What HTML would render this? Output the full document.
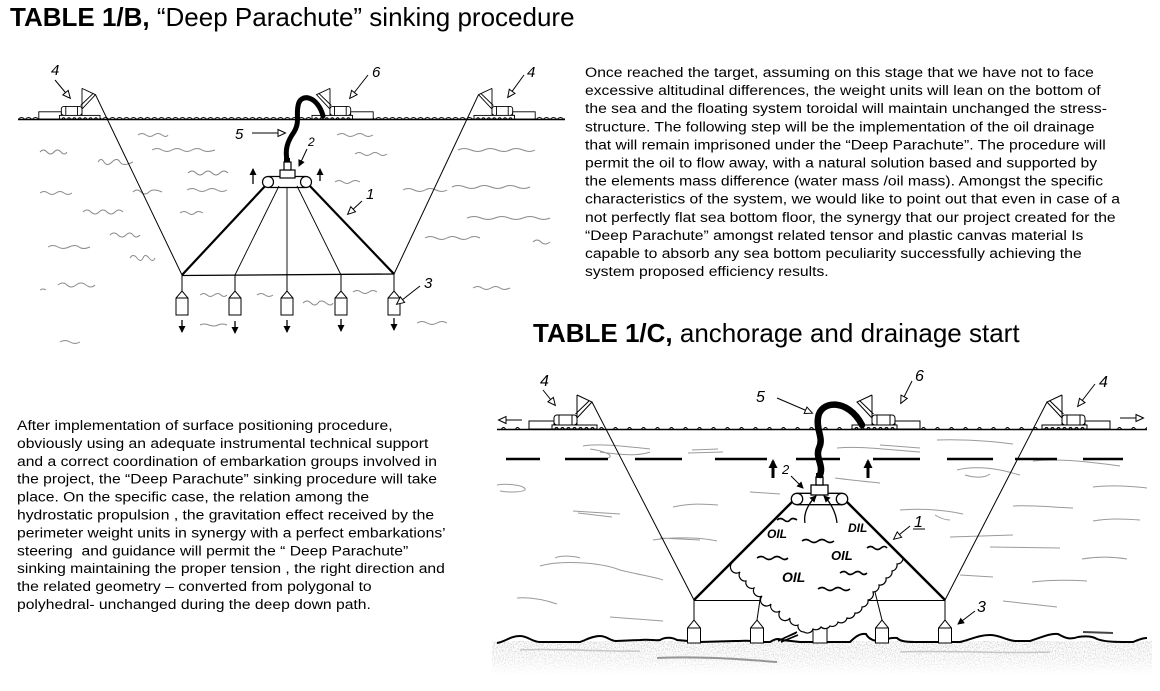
<!DOCTYPE html>
<html><head><meta charset="utf-8">
<style>
html,body{margin:0;padding:0;background:#fff;}
svg{display:block;}
</style></head>
<body>
<svg width="1160" height="691" viewBox="0 0 1160 691" xmlns="http://www.w3.org/2000/svg" font-family="'Liberation Sans', Arial, sans-serif">
<defs>
  <marker id="oa" markerWidth="12" markerHeight="12" refX="8" refY="4.5" orient="auto" markerUnits="userSpaceOnUse">
    <path d="M1 1 L8.5 4.5 L1 8 Z" fill="#fff" stroke="#000" stroke-width="1"/>
  </marker>
  <marker id="sa" markerWidth="10" markerHeight="10" refX="6" refY="3.5" orient="auto" markerUnits="userSpaceOnUse">
    <path d="M0 0 L7 3.5 L0 7 Z" fill="#000"/>
  </marker>
  <marker id="sb" markerWidth="12" markerHeight="12" refX="7" refY="4.5" orient="auto" markerUnits="userSpaceOnUse">
    <path d="M0 0 L9 4.5 L0 9 Z" fill="#000"/>
  </marker>
  <pattern id="w1" width="7" height="6" patternUnits="userSpaceOnUse" x="18" y="114">
    <path d="M0 5.5 Q3.5 1.5 7 5.5" fill="none" stroke="#000" stroke-width="0.9"/>
  </pattern>
  <pattern id="w2" width="14" height="6" patternUnits="userSpaceOnUse" x="497" y="424">
    <path d="M4 6 Q6.5 1 9 6" fill="none" stroke="#000" stroke-width="0.9"/>
  </pattern>
  <filter id="nz" x="0" y="0" width="1" height="1">
    <feTurbulence type="fractalNoise" baseFrequency="1.1 0.7" numOctaves="2" seed="7" result="t"/>
    <feColorMatrix in="t" type="matrix" values="0 0 0 0 0.5  0 0 0 0 0.5  0 0 0 0 0.5  0 0 0 -3.6 2.0"/>
  </filter>
  <linearGradient id="fade" x1="0" y1="0" x2="0" y2="1">
    <stop offset="0" stop-color="#fff" stop-opacity="0.25"/>
    <stop offset="0.55" stop-color="#fff" stop-opacity="0.5"/>
    <stop offset="1" stop-color="#fff" stop-opacity="1"/>
  </linearGradient>
  <g id="boat" fill="none" stroke="#000" stroke-width="1">
    <path d="M0 -34 V-4"/>
    <path d="M0 -34 L-15 -27 L0 -11"/>
    <path d="M-12.5 -28.5 L1.5 -15"/>
    <rect x="0" y="-14" width="23" height="10" rx="3" fill="#fff"/>
    <path d="M5 -14 V-4 M18 -14 V-4"/>
    <rect x="23" y="-8" width="25" height="8" fill="#fff"/>
    <rect x="-20" y="-4" width="45" height="4" fill="#fff"/>
    <path d="M-17 0 a1.5 1.5 0 0 1 3 0 M-11 0 a1.5 1.5 0 0 1 3 0 M-5 0 a1.5 1.5 0 0 1 3 0 M1 0 a1.5 1.5 0 0 1 3 0 M7 0 a1.5 1.5 0 0 1 3 0 M13 0 a1.5 1.5 0 0 1 3 0 M19 0 a1.5 1.5 0 0 1 3 0"/>
  </g>
</defs>

<!-- ============ TITLES ============ -->
<text x="10" y="26" font-size="26" fill="#000"><tspan font-weight="bold">TABLE 1/B,</tspan> “Deep Parachute” sinking procedure</text>
<text x="533" y="342" font-size="26" fill="#000"><tspan font-weight="bold">TABLE 1/C,</tspan> anchorage and drainage start</text>

<!-- ============ RIGHT PARAGRAPH ============ -->
<g font-size="14" fill="#000">
<text transform="translate(585 77) scale(1.12 1)">Once reached the target, assuming on this stage that we have not to face</text>
<text transform="translate(585 95.1) scale(1.12 1)">excessive altitudinal differences, the weight units will lean on the bottom of</text>
<text transform="translate(585 113.2) scale(1.12 1)">the sea and the floating system toroidal will maintain unchanged the stress-</text>
<text transform="translate(585 131.3) scale(1.12 1)">structure. The following step will be the implementation of the oil drainage</text>
<text transform="translate(585 149.4) scale(1.12 1)">that will remain imprisoned under the “Deep Parachute”. The procedure will</text>
<text transform="translate(585 167.5) scale(1.12 1)">permit the oil to flow away, with a natural solution based and supported by</text>
<text transform="translate(585 185.6) scale(1.12 1)">the elements mass difference (water mass /oil mass). Amongst the specific</text>
<text transform="translate(585 203.7) scale(1.12 1)">characteristics of the system, we would like to point out that even in case of a</text>
<text transform="translate(585 221.8) scale(1.12 1)">not perfectly flat sea bottom floor, the synergy that our project created for the</text>
<text transform="translate(585 239.9) scale(1.12 1)">“Deep Parachute” amongst related tensor and plastic canvas material Is</text>
<text transform="translate(585 258) scale(1.12 1)">capable to absorb any sea bottom peculiarity successfully achieving the</text>
<text transform="translate(585 276.1) scale(1.12 1)">system proposed efficiency results.</text>
</g>

<!-- ============ LEFT PARAGRAPH ============ -->
<g font-size="14" fill="#000">
<text transform="translate(17 430) scale(1.12 1)">After implementation of surface positioning procedure,</text>
<text transform="translate(17 447.9) scale(1.12 1)">obviously using an adequate instrumental technical support</text>
<text transform="translate(17 465.8) scale(1.12 1)">and a correct coordination of embarkation groups involved in</text>
<text transform="translate(17 483.7) scale(1.12 1)">the project, the “Deep Parachute” sinking procedure will take</text>
<text transform="translate(17 501.6) scale(1.12 1)">place. On the specific case, the relation among the</text>
<text transform="translate(17 519.5) scale(1.12 1)">hydrostatic propulsion , the gravitation effect received by the</text>
<text transform="translate(17 537.4) scale(1.12 1)">perimeter weight units in synergy with a perfect embarkations’</text>
<text transform="translate(17 555.3) scale(1.12 1)" xml:space="preserve">steering  and guidance will permit the “ Deep Parachute”</text>
<text transform="translate(17 573.2) scale(1.12 1)">sinking maintaining the proper tension , the right direction and</text>
<text transform="translate(17 591.1) scale(1.12 1)">the related geometry – converted from polygonal to</text>
<text transform="translate(17 609) scale(1.12 1)">polyhedral- unchanged during the deep down path.</text>
</g>

<!-- ============ DIAGRAM 1 (TABLE 1/B) ============ -->
<g fill="none" stroke="#8a8a8a" stroke-width="1">
  <path d="M40 152 q3.5 -4 7 0 t7 0 t7 0 t6 0"/>
  <path d="M138 135 q4 -3 8 0 t8 0 t8 0 t6 0"/>
  <path d="M152 150 q5 -3 10 0 t10 0 t10 0 t10 0 t10 0 t13 0"/>
  <path d="M98 162 q3 -5 6 0 t8 0 t8 0 t13 0"/>
  <path d="M188 173 q4 -4 8 0 t8 0 t8 0 t8 0 t8 0"/>
  <path d="M40 193 q4 -3 8 0 t8 0 t8 0 t8 0"/>
  <path d="M133 192 q4 -4 8 0 t8 0 t13 0"/>
  <path d="M187 190 q5 -3 10 0 t10 0 t10 0 t10 0"/>
  <path d="M83 212 q4 -4 8 0 t8 0 t8 0 t8 0 t8 0"/>
  <path d="M180 213 q4 -3 8 0 t7 0 t8 0"/>
  <path d="M110 235 q4 -4 8 0 t8 0 t7 0 t7 0"/>
  <path d="M48 247 q5 -3 10 0 t11 0 t10 0 t11 0"/>
  <path d="M130 258 q3 -5 7 0 t6 0 t6 0 t6 0"/>
  <path d="M58 285 q5 -4 9 0 t9 0 t10 0 t9 0"/>
  <path d="M200 295 q4 -3 7 0 t7 0 t7 0 t6 0"/>
  <path d="M257 295 q4 -3 8 0 t8 0"/>
  <path d="M303 303 q4 -4 8 0 t7 0 t8 0 t7 0"/>
  <path d="M353 292 q4 -3 8 0 t8 0 t8 0"/>
  <path d="M200 325 q4 -2 9 0 t9 0 t9 0"/>
  <path d="M417 323 q5 -3 10 0 t10 0 t10 0"/>
  <path d="M337 135 q5 -3 9 0 t9 0 t9 0 t9 0"/>
  <path d="M355 154 q4 -3 8 0 t8 0 t8 0 t8 0"/>
  <path d="M335 182 q4 -3 8 0 t8 0 t9 0"/>
  <path d="M403 190 q5 -3 11 0 t11 0 t11 0 t11 0"/>
  <path d="M452 187 q6 -3 13 0 t13 0 t13 0 t13 0 t13 0 t13 0"/>
  <path d="M458 150 q6 -3 13 0 t13 0 t13 0 t13 0 t13 0 t12 0"/>
  <path d="M467 218 q7 -3 14 0 t14 0 t14 0 t14 0 t14 0 t13 0"/>
  <path d="M425 238 q5 -3 11 0 t11 0 t11 0 t11 0 t11 0"/>
  <path d="M533 242 q4 -4 8 0 t9 0"/>
  <path d="M473 288 q5 -3 9 0 t9 0 t9 0 t10 0"/>
  <path d="M60 342 q5 -3 10 0 t10 0"/>
  <path d="M40 290 q3 -2 6 0"/>
</g>
<rect x="18" y="114" width="547" height="6" fill="url(#w1)"/>
<path d="M18 119.5 H565" stroke="#000" stroke-width="1.4"/>
<path d="M95.5 94.7 L182 275" stroke="#000" stroke-width="1" fill="none"/>
<path d="M478.5 94.7 L394 274" stroke="#000" stroke-width="1" fill="none"/>
<use href="#boat" transform="translate(82 119) scale(-0.9 0.9)"/>
<use href="#boat" transform="translate(330 119) scale(0.9)"/>
<use href="#boat" transform="translate(492 119) scale(0.9)"/>
<g stroke="#000" fill="none">
  <path d="M267 184 L182 275" stroke-width="2.2"/>
  <path d="M308 184 L394 274" stroke-width="2.2"/>
  <path d="M182 275.5 L394 274" stroke-width="1.3"/>
  <path d="M279 186 L235 275" stroke-width="0.9"/>
  <path d="M287 187 L287 275" stroke-width="0.9"/>
  <path d="M297 186 L341 275" stroke-width="0.9"/>
</g>
<g stroke="#000" stroke-width="1.2" fill="#fff">
  <path d="M268 176.5 H306 M268 187.5 H306"/>
  <circle cx="268" cy="182" r="5.5"/>
  <circle cx="306" cy="182" r="5.5"/>
  <rect x="280" y="170" width="15" height="8"/>
  <rect x="284" y="162" width="7" height="8"/>
</g>
<rect x="284" y="158" width="6" height="4" fill="#000"/>
<path d="M323 116 C318 96, 300 92, 298 106 C296 116, 300 122, 294 132 C287 142, 285 150, 287 160" stroke="#000" stroke-width="5" fill="none" stroke-linecap="round"/>
<path d="M253 184 V169" stroke="#000" stroke-width="1.3" marker-end="url(#sa)"/>
<path d="M320 181 V169" stroke="#000" stroke-width="1.3" marker-end="url(#sa)"/>
<g stroke="#000" stroke-width="1" fill="#fff">
  <path d="M182 275 V292 M235 275 V292 M287 275 V292 M341 275 V292 M394 274 V292" fill="none"/>
  <path d="M176 315 V298 L182 291 L188 298 V315 Z M176 298 H188"/>
  <path d="M229 315 V298 L235 291 L241 298 V315 Z M229 298 H241"/>
  <path d="M281 315 V298 L287 291 L293 298 V315 Z M281 298 H293"/>
  <path d="M335 315 V298 L341 291 L347 298 V315 Z M335 298 H347"/>
  <path d="M388 315 V298 L394 291 L400 298 V315 Z M388 298 H400"/>
</g>
<g stroke="#000" stroke-width="1.3">
  <path d="M182 320 V332" marker-end="url(#sa)"/>
  <path d="M235 321 V333" marker-end="url(#sa)"/>
  <path d="M287 320 V332" marker-end="url(#sa)"/>
  <path d="M341 319 V331" marker-end="url(#sa)"/>
  <path d="M394 318 V330" marker-end="url(#sa)"/>
</g>
<g font-size="15" font-style="italic" fill="#000">
  <text x="51" y="75">4</text>
  <text x="372" y="77">6</text>
  <text x="527" y="77">4</text>
  <text x="235" y="139">5</text>
  <text x="308" y="146" font-size="12">2</text>
  <text x="366" y="199">1</text>
  <text x="424" y="288">3</text>
</g>
<g stroke="#000" stroke-width="1" fill="none">
  <path d="M55 80 L70 98" marker-end="url(#oa)"/>
  <path d="M368 75 L350 98" marker-end="url(#oa)"/>
  <path d="M524 75 L508 97" marker-end="url(#oa)"/>
  <path d="M252 133 L285 133" marker-end="url(#oa)"/>
  <path d="M307 149 L299 166" marker-end="url(#sa)"/>
  <path d="M362 201 L348 214" marker-end="url(#oa)"/>
  <path d="M420 286 L397 304" marker-end="url(#oa)"/>
</g>

<!-- ============ DIAGRAM 2 (TABLE 1/C) ============ -->
<g fill="none" stroke="#9a9a9a" stroke-width="1">
  <path d="M583 446 C600 443, 630 447, 650 449 M600 452 C620 455, 640 456, 650 452 M590 449 C605 451, 615 456, 608 458"/>
  <path d="M688 453 L723 452 M692 450 L718 449"/>
  <path d="M497 485 C510 483, 527 486, 525 490 C520 493, 505 492, 500 491"/>
  <path d="M573 511 L620 514 M578 513 L612 517"/>
  <path d="M673 507 C690 503, 705 504, 718 505"/>
  <path d="M750 492 L780 494"/>
  <path d="M653 540 C670 537, 700 537, 717 541 M660 538 L700 540"/>
  <path d="M540 566 C560 560, 600 562, 620 570 C640 575, 655 577, 663 580 M555 558 C560 555, 575 556, 580 558"/>
  <path d="M517 598 C530 597, 545 600, 557 604"/>
  <path d="M610 617 L663 621"/>
  <path d="M837 448 C860 446, 880 449, 920 452"/>
  <path d="M835 478 C850 480, 870 482, 880 483"/>
  <path d="M880 445 L920 448"/>
  <path d="M937 440 C960 439, 990 441, 1013 444"/>
  <path d="M957 470 C970 466, 990 468, 1000 470 C1010 472, 1015 474, 1020 475 M965 475 C975 478, 985 478, 990 474"/>
  <path d="M1033 461 C1060 458, 1090 462, 1120 466"/>
  <path d="M1093 487 C1110 485, 1130 486, 1147 488"/>
  <path d="M1013 506 C1030 505, 1050 507, 1073 508"/>
  <path d="M900 510 C920 508, 945 510, 963 514 M935 515 C940 518, 945 520, 950 520"/>
  <path d="M1093 521 C1110 518, 1125 519, 1140 520"/>
  <path d="M950 537 L1013 535"/>
  <path d="M990 547 L1060 548"/>
  <path d="M1082 559 C1100 556, 1115 557, 1127 559"/>
  <path d="M960 575 L993 577"/>
  <path d="M1032 582 C1050 580, 1070 580, 1087 581"/>
  <path d="M1003 601 C1020 603, 1040 605, 1057 607"/>
</g>
<path d="M1083 632 L1113 633" stroke="#444" stroke-width="2" fill="none"/>
<!-- sea floor texture -->
<rect x="492" y="641" width="660" height="33" filter="url(#nz)"/>
<rect x="490" y="640" width="665" height="35" fill="url(#fade)"/>
<path d="M657 658 C700 656, 740 659, 777 662" stroke="#555" stroke-width="2" fill="none" opacity="0.6"/>
<path d="M520 650 C560 648, 600 652, 640 651" stroke="#999" stroke-width="1.5" fill="none" opacity="0.5"/>
<path d="M900 652 C950 650, 1000 654, 1050 652" stroke="#999" stroke-width="1.5" fill="none" opacity="0.5"/>
<path d="M497 643 C505 642, 510 636, 520 636 C528 636, 532 642, 540 642 L580 642 C586 640, 592 636, 600 636 C607 636, 610 641, 616 641 L640 640 C650 639, 655 641, 660 640 C665 637, 672 637, 677 640 L700 642 L735 641 C745 641, 750 640, 758 642 L770 642 C775 639, 778 638, 782 640 L800 642 L850 642 C855 637, 860 633, 866 634 C868 638, 872 641, 880 641 C885 640, 890 637, 897 638 C900 641, 905 642, 915 642 L960 642 C970 640, 978 635, 990 635 C1000 635, 1005 640, 1015 641 L1030 641 C1040 638, 1050 633, 1058 634 C1065 638, 1070 640, 1078 637 C1085 636, 1092 636, 1097 639 C1105 642, 1115 642, 1133 642 C1138 640, 1142 638, 1147 638" stroke="#000" stroke-width="2" fill="none"/>
<rect x="497" y="424" width="650" height="6" fill="url(#w2)"/>
<path d="M497 429.5 H1147" stroke="#000" stroke-width="1.4"/>
<path d="M506 459 H540 M565 459 H608 M635 459 H682 M715 459 H767 M796 459 H840 M873 459 H920 M947 459 H993 M1015 459 H1057 M1083 459 H1123" stroke="#000" stroke-width="2.5"/>
<use href="#boat" transform="translate(577 429) scale(-1 1)"/>
<use href="#boat" transform="translate(872 429)"/>
<use href="#boat" transform="translate(1062 429)"/>
<path d="M522 420 L499 420" stroke="#000" stroke-width="1" marker-end="url(#oa)"/>
<path d="M1120 418 L1143 418" stroke="#000" stroke-width="1" marker-end="url(#oa)"/>
<path d="M592 402 L694 600" stroke="#000" stroke-width="1" fill="none"/>
<path d="M1047 402 L945 600" stroke="#000" stroke-width="1" fill="none"/>
<path d="M694 600.5 H945" stroke="#000" stroke-width="1.1"/>
<g stroke="#000" stroke-width="1" fill="#fff">
  <path d="M694 600 V620 M761 593 L757 620 M875 592 L882 620 M945 600 V620" fill="none"/>
  <path d="M687.5 643 V628 L694 620 L700.5 628 V643 Z M687.5 628 H700.5"/>
  <path d="M750.5 643 V628 L757 620 L763.5 628 V643 Z M750.5 628 H763.5"/>
  <path d="M813 643 V628 L820 620 L827 628 V643 Z"/>
  <path d="M875.5 643 V628 L882 620 L888.5 628 V643 Z M875.5 628 H888.5"/>
  <path d="M938.5 643 V628 L945 620 L951.5 628 V643 Z M938.5 628 H951.5"/>
</g>
<path d="M733 562 A6 6 0 0 0 740 572 A6 6 0 0 0 746 581 A6 6 0 0 0 754 588 A6 6 0 0 0 762 596 A6 6 0 0 0 771 604 A6 6 0 0 0 780 611 A6 6 0 0 0 790 618 A6 6 0 0 0 798 625 A6 6 0 0 0 804 632 A6 6 0 0 0 813 629 A6 6 0 0 0 821 627 A6 6 0 0 0 830 626 A6 6 0 0 0 838 622 A6 6 0 0 0 847 618 A6 6 0 0 0 855 613 A6 6 0 0 0 862 607 A6 6 0 0 0 868 600 A6 6 0 0 0 873 592 A6 6 0 0 0 879 585 A6 6 0 0 0 886 578 A6 6 0 0 0 892 571 A6 6 0 0 0 897 564 A6 6 0 0 0 903 557 L845 497 L790 503 Z" fill="#fff" stroke="none"/>
<path d="M733 562 A6 6 0 0 0 740 572 A6 6 0 0 0 746 581 A6 6 0 0 0 754 588 A6 6 0 0 0 762 596 A6 6 0 0 0 771 604 A6 6 0 0 0 780 611 A6 6 0 0 0 790 618 A6 6 0 0 0 798 625 A6 6 0 0 0 804 632 A6 6 0 0 0 813 629 A6 6 0 0 0 821 627 A6 6 0 0 0 830 626 A6 6 0 0 0 838 622 A6 6 0 0 0 847 618 A6 6 0 0 0 855 613 A6 6 0 0 0 862 607 A6 6 0 0 0 868 600 A6 6 0 0 0 873 592 A6 6 0 0 0 879 585 A6 6 0 0 0 886 578 A6 6 0 0 0 892 571 A6 6 0 0 0 897 564 A6 6 0 0 0 903 557" fill="none" stroke="#000" stroke-width="1.2"/>
<path d="M778 641 L797 632 M781 642 L798 635 M784 638 L796 633" stroke="#000" stroke-width="1.6" fill="none"/>
<path d="M792 502 L694 600" stroke="#000" stroke-width="2.4" fill="none"/>
<path d="M846 501 L945 600" stroke="#000" stroke-width="2.4" fill="none"/>
<g stroke="#000" stroke-width="1.3" fill="#fff">
  <path d="M797 493.3 H842 M797 504.7 H842"/>
  <circle cx="797" cy="499" r="5.7"/>
  <circle cx="842" cy="499" r="5.7"/>
  <rect x="811" y="485" width="17" height="10"/>
  <rect x="816" y="477" width="7" height="8"/>
</g>
<rect x="816" y="473" width="7" height="5" fill="#000"/>
<path d="M820 475 C824 465, 815 458, 819 448 C824 438, 816 430, 818 418 C820 400, 848 398, 862 425" stroke="#000" stroke-width="6.5" fill="none" stroke-linecap="round"/>
<path d="M805 523 C803 512, 810 502, 816 496" stroke="#000" stroke-width="1.3" fill="none" marker-end="url(#sa)"/>
<path d="M837 523 C836 512, 830 502, 824 496" stroke="#000" stroke-width="1.3" fill="none" marker-end="url(#sa)"/>
<g stroke="#000" stroke-width="1.6" fill="none">
  <path d="M777 520 q3.5 -3 7 0 t6 0 t7 0"/>
  <path d="M802 541 q4 -3 8 0 t8 0 t8 0 t8 0"/>
  <path d="M757 558 q4 -3 8 0 t8 0 t8 0 t7 0"/>
  <path d="M867 548 q3.5 -3 7 0 t7 0 t6 0"/>
  <path d="M840 573 q4 -3 7 0 t7 0 t7 0 t6 0"/>
  <path d="M818 589 q4 -3 8 0 t8 0 t8 0 t8 0"/>
</g>
<g font-weight="bold" font-style="italic" fill="#000">
  <text x="767" y="538" font-size="12">OIL</text>
  <text x="848" y="532" font-size="12">DIL</text>
  <text x="831" y="560" font-size="13">OIL</text>
  <text x="782" y="582" font-size="14">OIL</text>
</g>
<path d="M773 478 V461" stroke="#000" stroke-width="3" marker-end="url(#sb)"/>
<path d="M868 478 V461" stroke="#000" stroke-width="3" marker-end="url(#sb)"/>
<g font-size="16" font-style="italic" fill="#000">
  <text x="540" y="386">4</text>
  <text x="756" y="402">5</text>
  <text x="915" y="381">6</text>
  <text x="1099" y="387">4</text>
  <text x="782" y="474" font-size="13">2</text>
  <text x="914" y="527">1</text>
  <text x="977" y="612">3</text>
</g>
<path d="M913 529 H925" stroke="#000" stroke-width="1"/>
<g stroke="#000" stroke-width="1" fill="none">
  <path d="M543 390 L555 405" marker-end="url(#oa)"/>
  <path d="M777 398 L812 413" marker-end="url(#oa)"/>
  <path d="M912 381 L901 403" marker-end="url(#oa)"/>
  <path d="M1095 384 L1078 406" marker-end="url(#oa)"/>
  <path d="M791 476 L803 488" marker-end="url(#sa)"/>
  <path d="M910 526 L894 539" marker-end="url(#oa)"/>
  <path d="M975 611 L958 624" marker-end="url(#sa)"/>
</g>
</svg>
</body></html>
